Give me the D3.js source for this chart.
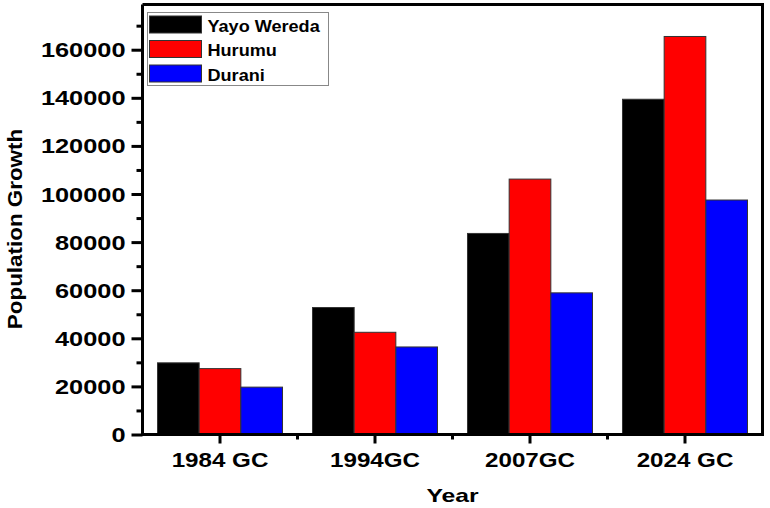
<!DOCTYPE html>
<html>
<head>
<meta charset="utf-8">
<script src="https://cdn.jsdelivr.net/npm/d3@7"></script>
<style>
  body { margin: 0; background: #fff; }
  text { font-family: "Liberation Sans", Arial, sans-serif; font-weight: bold; fill: #000; }
</style>
</head>
<body>
<div class="chart"></div>
<script>
// data
const years = ["1984 GC", "1994GC", "2007GC", "2024 GC"];
const seriesNames = ["Yayo Wereda", "Hurumu", "Durani"];
const yayoWereda = [29800, 52800, 83600, 139400];
const hurumu = [27400, 42500, 106200, 165500];
const durani = [19700, 36400, 58900, 97500];
const colors = ["#000000", "#ff0000", "#0000ff"];
const majorTicks = [0, 20000, 40000, 60000, 80000, 100000, 120000, 140000, 160000];
const minorTicks = [10000, 30000, 50000, 70000, 90000, 110000, 130000, 150000, 170000];

const values = [yayoWereda, hurumu, durani];

const Margin = { top: 4.5, right: 7.5, bottom: 73.5, left: 142.5 };
const Width = 770 - Margin.left - Margin.right;
const Height = 508 - Margin.top - Margin.bottom;

const svg = d3.select(".chart").append("svg")
    .attr("width", 770)
    .attr("height", 508);

const g = svg.append("g")
    .attr("transform", "translate(" + Margin.left + "," + Margin.top + ")");

// scales
const x = d3.scaleBand().domain(years).range([0, Width])
    .paddingInner(0.1935).paddingOuter(0.0968);
const xs = d3.scaleBand().domain(seriesNames).range([0, x.bandwidth()]);
const y = d3.scaleLinear().domain([0, 178800]).range([Height, 0]);

// stretch text horizontally like the original picture
function stretch(sel, k) {
  sel.each(function() {
    const w = this.getComputedTextLength();
    d3.select(this).attr("textLength", w * k).attr("lengthAdjust", "spacingAndGlyphs");
  });
}

// bars
const groups = g.selectAll(".grp")
  .data(years)
  .enter().append("g")
    .attr("class", "grp")
    .attr("transform", d => "translate(" + x(d) + ",0)");

groups.selectAll("rect")
  .data((d, i) => seriesNames.map((s, j) => ({ s: s, v: values[j][i], c: colors[j] })))
  .enter().append("rect")
    .attr("x", d => xs(d.s))
    .attr("width", xs.bandwidth())
    .attr("y", d => y(d.v))
    .attr("height", d => Height - y(d.v))
    .style("fill", d => d.c)
    .style("stroke", "#333")
    .style("stroke-width", 1);

// frame (top + right)
g.append("path")
  .attr("d", "M0,0H" + Width + "V" + Height)
  .style("fill", "none")
  .style("stroke", "#000")
  .style("stroke-width", 3);

// Y axis minor
g.append("g")
  .call(d3.axisLeft(y).tickValues(minorTicks).tickSize(6).tickFormat(""))
  .call(a => a.select(".domain").remove())
  .call(a => a.selectAll("line").style("stroke-width", 3));

// Y axis major
const yAxis = g.append("g")
  .call(d3.axisLeft(y).tickValues(majorTicks).tickSize(11).tickPadding(6).tickFormat(d3.format("d")));
yAxis.select(".domain").style("stroke-width", 3).attr("d", "M0," + (Height + 1.5) + "V0");
yAxis.selectAll("line").style("stroke-width", 3);
yAxis.selectAll("text")
  .attr("font-family", null)
  .style("font-size", "19.5px")
  .attr("dy", "0.36em")
  .call(stretch, 1.3);

// X axis minor ticks between categories
g.append("g")
  .attr("transform", "translate(0," + Height + ")")
  .selectAll("line")
  .data(years.slice(1))
  .enter().append("line")
    .attr("x1", d => x(d) - x.step() * x.paddingInner() / 2)
    .attr("x2", d => x(d) - x.step() * x.paddingInner() / 2)
    .attr("y1", 0).attr("y2", 5)
    .style("stroke", "#000")
    .style("stroke-width", 3);

// X axis
const xAxis = g.append("g")
  .attr("transform", "translate(0," + Height + ")")
  .call(d3.axisBottom(x).tickSize(9).tickPadding(9).tickSizeOuter(0));
xAxis.select(".domain").style("stroke-width", 3).attr("d", "M-1.5,0H" + (Width + 1.5));
xAxis.selectAll("line").style("stroke-width", 3);
xAxis.selectAll("text")
  .attr("font-family", null)
  .style("font-size", "21px")
  .call(stretch, 1.15);

// Y axis label
g.append("text")
  .attr("transform", "rotate(-90)")
  .attr("x", -(Height / 2 + 9.5))
  .attr("y", 22 - Margin.left)
  .style("text-anchor", "middle")
  .style("font-size", "20px")
  .text("Population Growth")
  .call(stretch, 1.12);

// X axis label
g.append("text")
  .attr("x", Width / 2)
  .attr("y", Height + 67)
  .style("text-anchor", "middle")
  .style("font-size", "19px")
  .text("Year")
  .call(stretch, 1.3);

// legend
const legend = g.append("g").attr("transform", "translate(5,8)");
legend.append("rect")
  .attr("width", 181).attr("height", 73)
  .style("fill", "#fff")
  .style("stroke", "#888")
  .style("stroke-width", 1);
const items = legend.selectAll(".item")
  .data(seriesNames)
  .enter().append("g")
    .attr("class", "item")
    .attr("transform", (d, i) => "translate(0," + (i * 24.5) + ")");
items.append("rect")
  .attr("x", 2).attr("y", 3.5)
  .attr("width", 52).attr("height", 17)
  .style("fill", (d, i) => colors[i])
  .style("stroke", "#333")
  .style("stroke-width", 1);
items.append("text")
  .attr("x", 60).attr("y", 19)
  .style("font-size", "16px")
  .text(d => d)
  .call(stretch, 1.13);
</script>
</body>
</html>
